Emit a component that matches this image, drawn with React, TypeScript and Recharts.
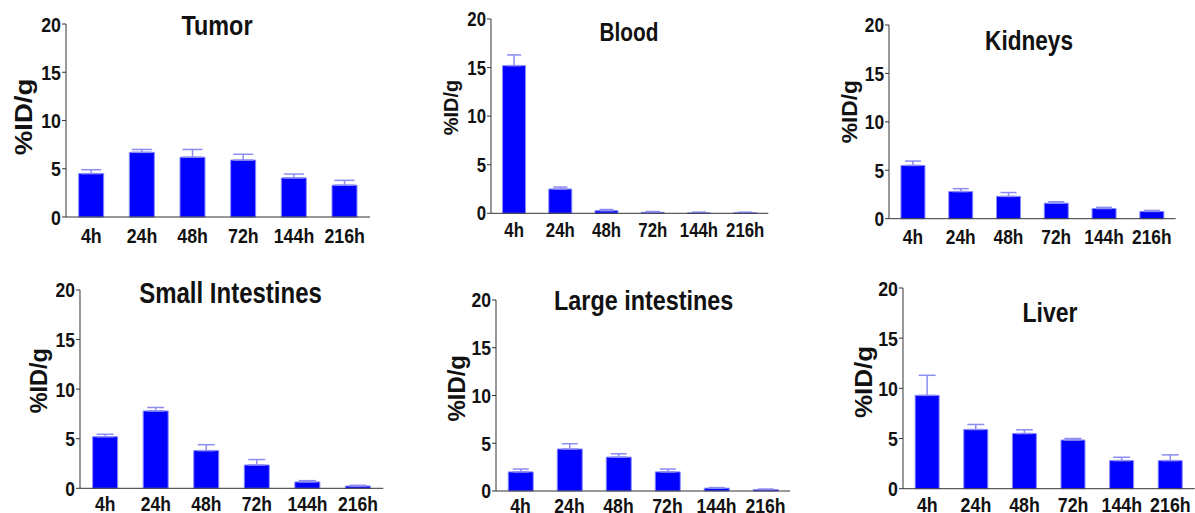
import React from "react";
import { Bar, BarChart, ErrorBar, XAxis, YAxis } from "recharts";

const FONT = "'Liberation Sans', Arial, sans-serif";
const SY = 1.18; // text in the source looks vertically stretched

const times = ["4h", "24h", "48h", "72h", "144h", "216h"];
const yTicks = [0, 5, 10, 15, 20];

const tumorMean = [4.5, 6.7, 6.2, 5.9, 4.05, 3.3];
const tumorErr = [0.4, 0.3, 0.8, 0.6, 0.4, 0.5];
const bloodMean = [15.2, 2.5, 0.27, 0.1, 0.04, 0.05];
const bloodErr = [1.1, 0.2, 0.12, 0.08, 0.08, 0.06];
const kidneysMean = [5.5, 2.8, 2.3, 1.6, 1.05, 0.75];
const kidneysErr = [0.45, 0.3, 0.4, 0.15, 0.12, 0.1];
const smallIntMean = [5.2, 7.8, 3.8, 2.35, 0.64, 0.23];
const smallIntErr = [0.25, 0.35, 0.6, 0.55, 0.13, 0.07];
const largeIntMean = [2.0, 4.4, 3.55, 2.0, 0.3, 0.15];
const largeIntErr = [0.3, 0.55, 0.35, 0.3, 0.06, 0.05];
const liverMean = [9.3, 5.9, 5.5, 4.85, 2.8, 2.8];
const liverErr = [2.0, 0.5, 0.37, 0.15, 0.33, 0.57];

type Panel = {
  title: string;
  mean: number[];
  err: number[];
  x0: number; // y axis x
  x1: number; // end of x axis
  y20: number; // pixel of value 20
  y0: number; // pixel of value 0
  titleX: number;
  titleY: number;
  titleFs: number;
  labelX: number;
  labelY: number;
  labelFs: number;
  labelSx: number;
  tickFs: number;
  xTickOff: number;
  cap: number;
};

const panels: Panel[] = [
  { title: "Tumor", mean: tumorMean, err: tumorErr, x0: 66, x1: 370, y20: 24.3, y0: 217.3,
    titleX: 217, titleY: 24.5, titleFs: 23.4, labelX: 26, labelY: 117, labelFs: 23, labelSx: 1.2,
    tickFs: 17.8, xTickOff: 18, cap: 10 },
  { title: "Blood", mean: bloodMean, err: bloodErr, x0: 490.7, x1: 768, y20: 19, y0: 213.3,
    titleX: 629, titleY: 32, titleFs: 20.8, labelX: 452.5, labelY: 107.5, labelFs: 21, labelSx: 0.95,
    tickFs: 16.8, xTickOff: 16.7, cap: 7 },
  { title: "Kidneys", mean: kidneysMean, err: kidneysErr, x0: 889.3, x1: 1176, y20: 25, y0: 218.7,
    titleX: 1029, titleY: 40.5, titleFs: 22.6, labelX: 851.7, labelY: 111.7, labelFs: 21.5, labelSx: 1.06,
    tickFs: 17.3, xTickOff: 18, cap: 8 },
  { title: "Small Intestines", mean: smallIntMean, err: smallIntErr, x0: 80, x1: 383.3, y20: 290, y0: 488.3,
    titleX: 230.5, titleY: 292.5, titleFs: 24, labelX: 41, labelY: 380.8, labelFs: 23, labelSx: 1.02,
    tickFs: 17.5, xTickOff: 15.5, cap: 8.5 },
  { title: "Large intestines", mean: largeIntMean, err: largeIntErr, x0: 496, x1: 790, y20: 300, y0: 491,
    titleX: 643.7, titleY: 299.5, titleFs: 23.4, labelX: 459, labelY: 388.3, labelFs: 23, labelSx: 1.04,
    tickFs: 17.6, xTickOff: 14.3, cap: 8 },
  { title: "Liver", mean: liverMean, err: liverErr, x0: 903.3, x1: 1195, y20: 288.3, y0: 489,
    titleX: 1050, titleY: 312, titleFs: 23, labelX: 866, labelY: 382, labelFs: 23, labelSx: 1.13,
    tickFs: 17.8, xTickOff: 15.8, cap: 8.5 },
];

const MT = 30;
const MR = 4;
const YW = 60;
const XH = 40;

function PanelChart({ p }: { p: Panel }) {
  const data = times.map((t, i) => ({ time: t, mean: p.mean[i], range: [0, p.err[i]] }));
  const left = p.x0 - YW;
  const top = p.y20 - MT;
  const width = p.x1 - left + MR;
  const height = p.y0 - top + XH;

  const yTick = (t: any) => (
    <text
      transform={`translate(${t.x},${t.y}) scale(1,${SY})`}
      textAnchor="end"
      dy="0.36em"
      fontSize={p.tickFs}
      fontWeight={700}
      fontFamily={FONT}
      fill="#111"
    >
      {t.payload.value}
    </text>
  );
  const xTick = (t: any) => (
    <text
      transform={`translate(${t.x},${t.y}) scale(1,${SY})`}
      textAnchor="middle"
      dy="0.36em"
      fontSize={p.tickFs}
      fontWeight={700}
      fontFamily={FONT}
      fill="#111"
    >
      {t.payload.value}
    </text>
  );

  return (
    <div style={{ position: "absolute", left, top }}>
      <BarChart
        width={width}
        height={height}
        data={data}
        margin={{ top: MT, right: MR, bottom: 0, left: 0 }}
        barCategoryGap="25%"
      >
        <XAxis
          dataKey="time"
          height={XH}
          tickLine={false}
          tickSize={0}
          tickMargin={p.xTickOff}
          axisLine={{ stroke: "#333" }}
          tick={xTick}
          interval={0}
        />
        <YAxis
          width={YW}
          domain={[0, 20]}
          ticks={yTicks}
          tickSize={4}
          tickMargin={1}
          tickLine={{ stroke: "#333" }}
          axisLine={{ stroke: "#333" }}
          tick={yTick}
          interval={0}
        />
        <Bar dataKey="mean" fill="#0000ff" stroke="#8a8aff" strokeWidth={1} isAnimationActive={false}>
          <ErrorBar
            dataKey="range"
            direction="y"
            width={p.cap}
            stroke="#8c8cf2"
            strokeWidth={1.5}
            isAnimationActive={false}
          />
        </Bar>
      </BarChart>
    </div>
  );
}

export default function App() {
  return (
    <div
      style={{
        position: "absolute",
        left: 0,
        top: 0,
        width: 1195,
        height: 513,
        overflow: "hidden",
        background: "#fff",
      }}
    >
      {panels.map((p) => (
        <PanelChart key={p.title} p={p} />
      ))}
      <svg
        width={1195}
        height={513}
        style={{ position: "absolute", left: 0, top: 0, pointerEvents: "none" }}
      >
        {panels.map((p) => (
          <g key={p.title} fontFamily={FONT} fontWeight={700} fill="#111">
            <text
              transform={`translate(${p.titleX},${p.titleY}) scale(1,1.2)`}
              textAnchor="middle"
              dy="0.36em"
              fontSize={p.titleFs}
            >
              {p.title}
            </text>
            <text
              transform={`translate(${p.labelX},${p.labelY}) rotate(-90) scale(${p.labelSx},1)`}
              textAnchor="middle"
              dy="0.25em"
              fontSize={p.labelFs}
            >
              %ID/g
            </text>
          </g>
        ))}
      </svg>
    </div>
  );
}
